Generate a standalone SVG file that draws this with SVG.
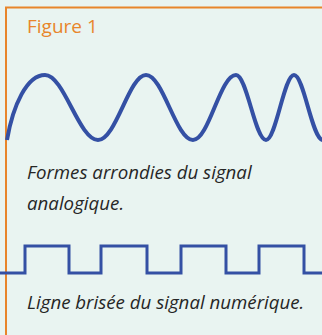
<svg xmlns="http://www.w3.org/2000/svg" width="322" height="335" viewBox="0 0 322 335">
<style>
.frame{fill:none;stroke:#E8852B;stroke-width:2}
.wave{fill:none;stroke:#3450A4;stroke-width:4;stroke-linejoin:round}
.sq{fill:none;stroke:#3450A4;stroke-width:3;stroke-linejoin:miter}
.cap{font-family:"Open Sans","Liberation Sans",sans-serif;font-style:italic;font-size:18.7px;fill:#262626}
.title{font-family:"Open Sans","Liberation Sans",sans-serif;font-size:19px;fill:#E8852B}
</style>
<rect x="0" y="0" width="322" height="335" fill="#E9F4F1"/>
<g id="frame">
<path class="frame" d="M6,336 V7.5 H322"/>
</g>
<g id="title"><text class="title" x="27" y="33">Figure 1</text></g>
<g id="analog">
<path class="wave" d="M7,140 C13,105 27,75 45,75 C64,75 79,140 98,140 C116,140 129,75 146,75 C163,75 176,140 193,140 C209,140 220,75 236,75 C247,75 255,140 266,140 C276,140 284,75 294,75 C304,75 312,140 323,140"/>
<text class="cap" x="27" y="179">Formes arrondies du signal</text>
<text class="cap" x="27" y="210">analogique.</text>
</g>
<g id="digital">
<path class="sq" d="M0,273 H25 V246 H69 V273 H101 V246 H147 V273 H181 V246 H226 V273 H259 V246 H304 V273 H323"/>
<text class="cap" x="27" y="309">Ligne brisée du signal numérique.</text>
</g>
</svg>
